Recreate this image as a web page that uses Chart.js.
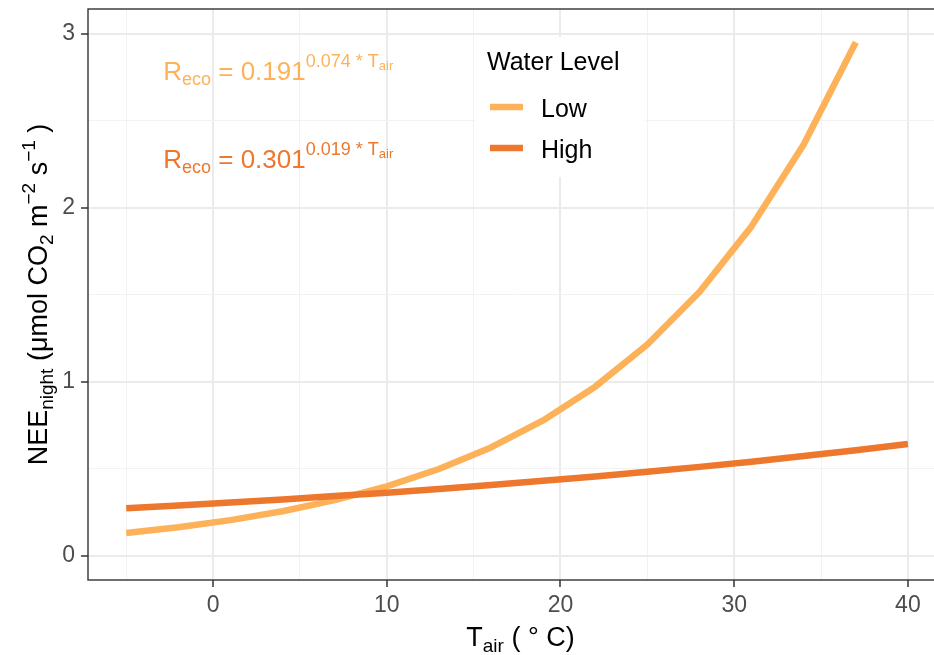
<!DOCTYPE html>
<html>
<head>
<meta charset="utf-8">
<script src="https://cdn.jsdelivr.net/npm/chart.js@4.4.1/dist/chart.umd.min.js"></script>
<style>
  html, body { margin: 0; padding: 0; background: #fff; overflow: hidden; }
  #wrap { width: 950px; height: 655px; }
</style>
</head>
<body>
<div id="wrap"><canvas id="nee" width="950" height="655"></canvas></div>
<script>
// night-time NEE vs air temperature, one curve per water level
const tempLow = [-5, -2, 1, 4, 7, 10, 13, 16, 19, 22, 25, 28, 31, 34, 37];
const neeLow = [0.132, 0.165, 0.206, 0.257, 0.321, 0.400, 0.500, 0.624, 0.779, 0.973, 1.215, 1.517, 1.894, 2.364, 2.952];

const tempHigh = [-5, -2, 1, 4, 7, 10, 13, 16, 19, 22, 25, 28, 31, 34, 37, 40];
const neeHigh = [0.274, 0.290, 0.307, 0.325, 0.344, 0.364, 0.385, 0.408, 0.432, 0.457, 0.484, 0.512, 0.542, 0.574, 0.608, 0.644];

const levelNames = ['Low', 'High'];
const levelColors = ['#FDB25A', '#EE772E'];
const xTickLabels = [0, 10, 20, 30, 40];
const yTickLabels = [0, 1, 2, 3];

const FONT = '"Liberation Sans", Arial, Helvetica, sans-serif';

function toPoints(xs, ys) {
  return xs.map((x, i) => ({x: x, y: ys[i]}));
}

// draws a run of text pieces (with sub/superscripts) on one baseline
function richWidth(ctx, parts) {
  let w = 0;
  parts.forEach((p) => {
    ctx.font = p.size + 'px ' + FONT;
    w += ctx.measureText(p.t).width;
  });
  return w;
}

function drawRich(ctx, parts, x, y, align, color) {
  let cx = x;
  const w = richWidth(ctx, parts);
  if (align === 'center') cx = x - w / 2;
  ctx.fillStyle = color;
  ctx.textBaseline = 'alphabetic';
  ctx.textAlign = 'left';
  parts.forEach((p) => {
    ctx.font = p.size + 'px ' + FONT;
    ctx.fillText(p.t, cx, y + (p.dy || 0));
    cx += ctx.measureText(p.t).width;
  });
}

function isMajorX(v) { return xTickLabels.includes(v); }
function isMajorY(v) { return yTickLabels.includes(v); }

const decorations = {
  id: 'decorations',
  afterDatasetsDraw(chart) {
    const ctx = chart.ctx;
    const a = chart.chartArea;
    ctx.save();
    ctx.strokeStyle = '#333333';
    ctx.lineWidth = 1.4;
    ctx.strokeRect(a.left, a.top, a.right - a.left, a.bottom - a.top);
    ctx.restore();
  },
  afterDraw(chart) {
    const ctx = chart.ctx;
    const a = chart.chartArea;
    const xs = chart.scales.x;
    const ys = chart.scales.y;
    ctx.save();

    // fitted equations
    const eqs = [
      {b: '0.191', k: '0.074', y: 2.736},
      {b: '0.301', k: '0.019', y: 2.230}
    ];
    eqs.forEach((e, i) => {
      drawRich(ctx, [
        {t: 'R', size: 26},
        {t: 'eco', size: 18, dy: 5},
        {t: ' = ' + e.b, size: 26},
        {t: e.k + ' * T', size: 18, dy: -13},
        {t: 'air', size: 13, dy: -10}
      ], xs.getPixelForValue(3.75), ys.getPixelForValue(e.y), 'center', levelColors[i]);
    });

    // legend
    ctx.fillStyle = '#ffffff';
    ctx.fillRect(475, 37, 170, 140);
    drawRich(ctx, [{t: 'Water Level', size: 25}], 487, 70, 'left', '#000');
    levelNames.forEach((name, i) => {
      const ly = 107 + i * 41;
      ctx.strokeStyle = levelColors[i];
      ctx.lineWidth = 6.5;
      ctx.lineCap = 'butt';
      ctx.beginPath();
      ctx.moveTo(490, ly);
      ctx.lineTo(523, ly);
      ctx.stroke();
      drawRich(ctx, [{t: name, size: 25}], 541, ly + 10, 'left', '#000');
    });

    // axis titles
    drawRich(ctx, [
      {t: 'T', size: 27},
      {t: 'air', size: 19, dy: 6},
      {t: ' ( \u00B0 C)', size: 27}
    ], (a.left + a.right) / 2 + 3, 646, 'center', '#000');

    ctx.translate(47, (a.top + a.bottom) / 2);
    ctx.rotate(-Math.PI / 2);
    drawRich(ctx, [
      {t: 'NEE', size: 27},
      {t: 'night', size: 19, dy: 6},
      {t: ' (\u03BCmol CO', size: 27},
      {t: '2', size: 19, dy: 6},
      {t: ' m', size: 27},
      {t: '\u22122', size: 19, dy: -12},
      {t: ' s', size: 27},
      {t: '\u22121', size: 19, dy: -12},
      {t: ' )', size: 27}
    ], 0, 0, 'center', '#000');
    ctx.restore();
  }
};

new Chart(document.getElementById('nee'), {
  type: 'line',
  data: {
    datasets: [
      {
        label: levelNames[1],
        data: toPoints(tempHigh, neeHigh),
        borderColor: levelColors[1],
        order: 1
      },
      {
        label: levelNames[0],
        data: toPoints(tempLow, neeLow),
        borderColor: levelColors[0],
        order: 2
      }
    ]
  },
  options: {
    responsive: false,
    animation: false,
    devicePixelRatio: 1,
    layout: {padding: {top: 9, right: 3, left: 0, bottom: 0}},
    elements: {
      point: {radius: 0},
      line: {borderWidth: 6.5, tension: 0, borderCapStyle: 'butt', borderJoinStyle: 'round', fill: false}
    },
    plugins: {legend: {display: false}, tooltip: {enabled: false}},
    scales: {
      x: {
        type: 'linear',
        min: -7.2,
        max: 42.25,
        afterFit: (s) => {
          s.height = 75;
          s.paddingLeft = 0;
          s.paddingRight = 0;
        },
        border: {display: false},
        grid: {
          color: (c) => (isMajorX(c.tick.value) ? '#EBEBEB' : '#F2F2F2'),
          lineWidth: (c) => (isMajorX(c.tick.value) ? 2 : 1),
          tickColor: (c) => (isMajorX(c.tick.value) ? '#333333' : 'rgba(0,0,0,0)'),
          tickWidth: 1.5,
          tickLength: 7
        },
        ticks: {
          stepSize: 5,
          includeBounds: false,
          autoSkip: false,
          maxRotation: 0,
          padding: 5,
          color: '#4D4D4D',
          font: {family: FONT, size: 23},
          callback: (v) => (isMajorX(v) ? String(v) : '')
        }
      },
      y: {
        min: -0.138,
        max: 3.143,
        afterFit: (s) => {
          s.width = 88;
          s.paddingTop = 0;
          s.paddingBottom = 0;
        },
        border: {display: false},
        grid: {
          color: (c) => (isMajorY(c.tick.value) ? '#EBEBEB' : '#F2F2F2'),
          lineWidth: (c) => (isMajorY(c.tick.value) ? 2 : 1),
          tickColor: (c) => (isMajorY(c.tick.value) ? '#333333' : 'rgba(0,0,0,0)'),
          tickWidth: 1.5,
          tickLength: 7
        },
        ticks: {
          stepSize: 0.5,
          includeBounds: false,
          autoSkip: false,
          padding: 6,
          color: '#4D4D4D',
          font: {family: FONT, size: 23},
          callback: (v) => (isMajorY(v) ? String(v) : '')
        }
      }
    }
  },
  plugins: [decorations]
});
</script>
</body>
</html>
